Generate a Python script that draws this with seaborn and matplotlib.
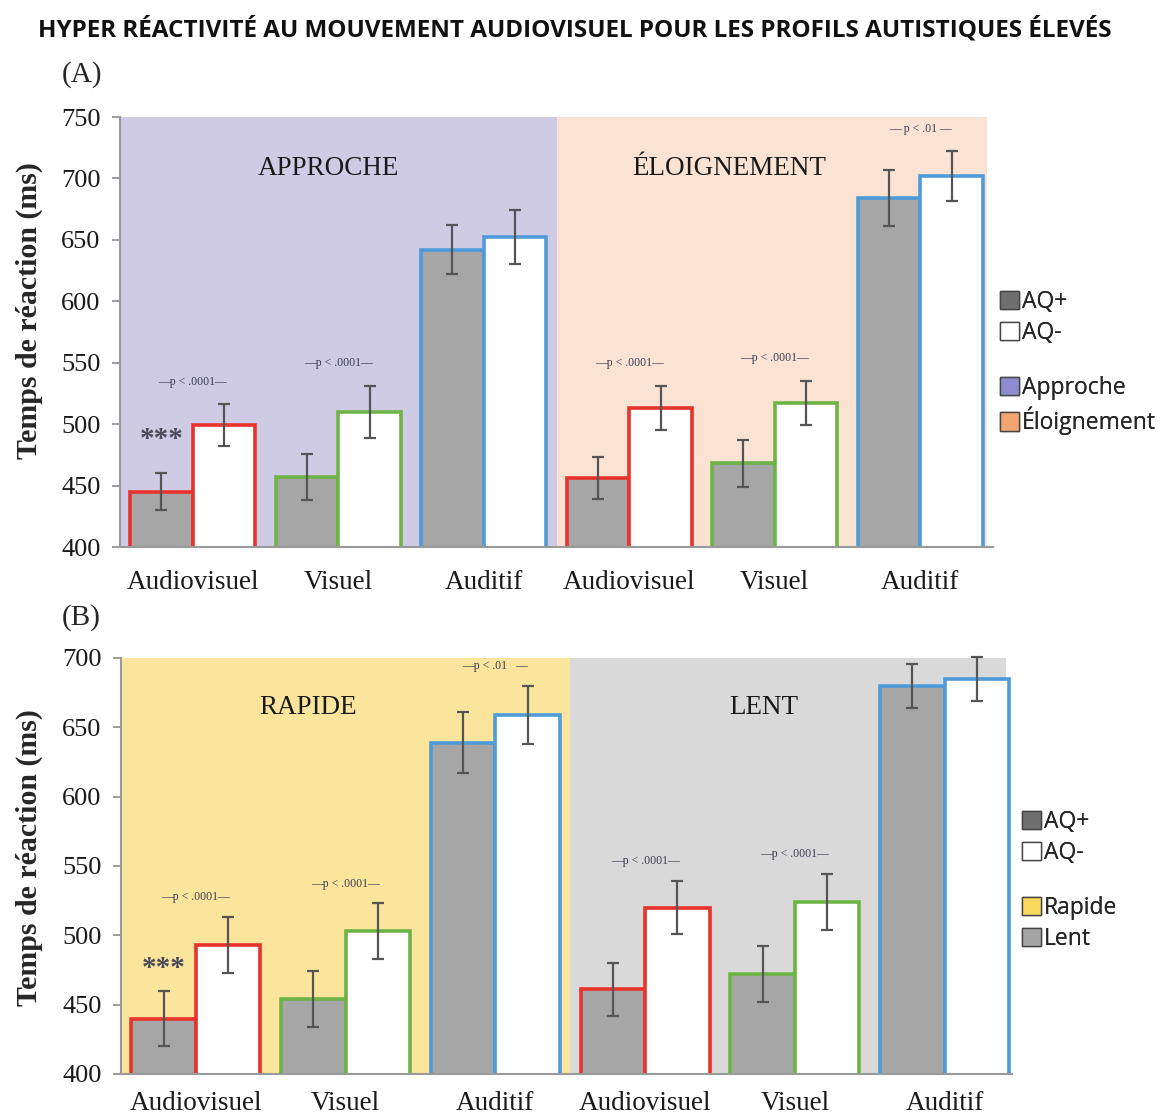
import matplotlib
matplotlib.use("Agg")
import matplotlib.pyplot as plt
from matplotlib.patches import Patch
import pandas as pd
import seaborn as sns

MODALITIES = ["Audiovisuel", "Visuel", "Auditif"]
GROUPS = ["AQ+", "AQ-"]

# panel A : approche / éloignement
A_CONDITIONS = ["APPROCHE", "ÉLOIGNEMENT"]
A_AQ_PLUS = [445, 457, 642, 456, 468, 684]
A_AQ_PLUS_ERR = [15, 19, 20, 17, 19, 23]
A_AQ_MINUS = [499, 510, 652, 513, 517, 702]
A_AQ_MINUS_ERR = [17, 21, 22, 18, 18, 20]
A_PVALUES = ["p < .0001", "p < .0001", None, "p < .0001", "p < .0001", " p < .01 "]
A_STARS = ["***", None, None, None, None, None]

# panel B : rapide / lent
B_CONDITIONS = ["RAPIDE", "LENT"]
B_AQ_PLUS = [440, 454, 639, 461, 472, 680]
B_AQ_PLUS_ERR = [20, 20, 22, 19, 20, 16]
B_AQ_MINUS = [493, 503, 659, 520, 524, 685]
B_AQ_MINUS_ERR = [20, 20, 21, 19, 20, 16]
B_PVALUES = ["p < .0001", "p < .0001", "p < .01   ", "p < .0001", "p < .0001", None]
B_STARS = ["***", None, None, None, None, None]

EDGE_COLORS = ["#e8322c", "#6db446", "#4f9ad8"]
BAR_FILL = {"AQ+": "#a6a6a6", "AQ-": "white"}

sns.set_style("white")
plt.rcParams["font.family"] = ["Liberation Serif", "DejaVu Serif"]


def make_frame(conditions, plus, minus):
    keys = [f"{c}|{m}" for c in conditions for m in MODALITIES]
    rows = []
    for k, p, q in zip(keys, plus, minus):
        rows.append({"cond": k, "aq": "AQ+", "rt": p})
        rows.append({"cond": k, "aq": "AQ-", "rt": q})
    return pd.DataFrame(rows), keys


def draw_panel(ax, conditions, plus, plus_err, minus, minus_err, pvals, stars,
               bg_colors, ylim, xmax, p_offset, star_offset, label_x,
               ylabel_pos, xtick_pad):
    df, keys = make_frame(conditions, plus, minus)
    ax.axvspan(-0.5, 2.5, color=bg_colors[0], zorder=0, lw=0)
    ax.axvspan(2.5, xmax - 0.04, color=bg_colors[1], zorder=0, lw=0)
    sns.barplot(data=df, x="cond", y="rt", hue="aq", order=keys, hue_order=GROUPS,
                palette=BAR_FILL, width=0.86, errorbar=None, saturation=1,
                legend=False, ax=ax, zorder=2)
    for container, errs in zip(ax.containers, [plus_err, minus_err]):
        xs, ys = [], []
        for i, bar in enumerate(container):
            bar.set_edgecolor(EDGE_COLORS[i % 3])
            bar.set_linewidth(2.6)
            xs.append(bar.get_x() + bar.get_width() / 2)
            ys.append(bar.get_height())
        eb = ax.errorbar(xs, ys, yerr=errs, fmt="none", ecolor="#555555",
                         elinewidth=1.6, capsize=4, capthick=1.6, zorder=4)
        for art in eb.lines[1] + eb.lines[2]:
            art.set_clip_on(False)

    plus_bars = ax.containers[0]
    for i, txt in enumerate(pvals):
        if txt is None:
            continue
        top = max(plus[i] + plus_err[i], minus[i] + minus_err[i])
        ax.annotate("—" + txt + "—", xy=(i, top), xytext=(0, p_offset),
                    textcoords="offset points", ha="center", va="bottom",
                    fontsize=8.5, color="#3c3c55", zorder=5)
    for i, txt in enumerate(stars):
        if txt is None:
            continue
        bar = plus_bars[i]
        ax.annotate(txt, xy=(bar.get_x() + bar.get_width() / 2, plus[i] + plus_err[i]),
                    xytext=(0, star_offset), textcoords="offset points",
                    ha="center", va="center", fontsize=21, fontweight="bold",
                    color="#4a4a58", zorder=5)

    for x, name in zip(label_x, conditions):
        ax.text(x, ylim[1] - 0.12 * (ylim[1] - ylim[0]), name,
                ha="center", va="center", fontsize=19.5, color="#1a1a1a", zorder=5)

    ax.set_xlim(-0.5, xmax)
    ax.set_ylim(*ylim)
    ax.set_yticks(range(ylim[0], ylim[1] + 1, 50))
    ax.set_xticks(range(6))
    ax.set_xticklabels(MODALITIES * 2)
    ax.set_xlabel("")
    ax.set_ylabel("Temps de réaction (ms)", fontsize=21.5, fontweight="bold")
    ax.yaxis.set_label_coords(*ylabel_pos)
    ax.tick_params(axis="y", left=True, length=6, width=1.2, color="#8c8c8c",
                   labelsize=19, pad=8, labelcolor="#1a1a1a")
    ax.tick_params(axis="x", bottom=False, labelsize=19.5, pad=xtick_pad,
                   labelcolor="#1a1a1a")
    sns.despine(ax=ax)
    for side in ["left", "bottom"]:
        ax.spines[side].set_color("#9a9a9a")
        ax.spines[side].set_linewidth(1.5)
        ax.spines[side].set_zorder(6)


fig = plt.figure(figsize=(11.61, 11.17), dpi=100)

ax_a = fig.add_axes([120 / 1161, 1 - 547 / 1117, 873 / 1161, 430 / 1117])
draw_panel(ax_a, A_CONDITIONS, A_AQ_PLUS, A_AQ_PLUS_ERR, A_AQ_MINUS, A_AQ_MINUS_ERR,
           A_PVALUES, A_STARS, ["#cfcbe4", "#fbe3d3"], (400, 750), 5.5, 12, 24,
           [0.93, 3.69], (-0.088, 0.55), 13)

ax_b = fig.add_axes([121 / 1161, 1 - 1074 / 1117, 891 / 1161, 416 / 1117])
draw_panel(ax_b, B_CONDITIONS, B_AQ_PLUS, B_AQ_PLUS_ERR, B_AQ_MINUS, B_AQ_MINUS_ERR,
           B_PVALUES, B_STARS, ["#fbe59c", "#d9d9d9"], (400, 700), 5.45, 10, 16,
           [0.75, 3.79], (-0.087, 0.52), 9)

fig.text(0.495, 1 - 30 / 1117, "HYPER RÉACTIVITÉ AU MOUVEMENT AUDIOVISUEL POUR LES PROFILS AUTISTIQUES ÉLEVÉS",
         ha="center", va="center", fontsize=17.5, fontweight="bold",
         family=["Open Sans", "DejaVu Sans"], color="#111111")
fig.text(62 / 1161, 1 - 75 / 1117, "(A)", ha="left", va="center", fontsize=21)
fig.text(62 / 1161, 1 - 618 / 1117, "(B)", ha="left", va="center", fontsize=21)

legend_font = {"family": ["Open Sans", "DejaVu Sans"], "size": 16.5}


def add_legends(top_y, left_x, cond_labels, cond_colors):
    aq_handles = [Patch(facecolor="#6e6e6e", edgecolor="#444444", label="AQ+"),
                  Patch(facecolor="white", edgecolor="#444444", label="AQ-")]
    cond_handles = [Patch(facecolor=c, edgecolor="#444444", label=l)
                    for l, c in zip(cond_labels, cond_colors)]
    for k, handles in enumerate([aq_handles, cond_handles]):
        leg = fig.legend(handles=handles, loc="upper left",
                         bbox_to_anchor=(left_x, top_y[k]), frameon=False,
                         prop=legend_font, handlelength=0.85, handleheight=0.85,
                         handletextpad=0.1, labelspacing=0.3, borderpad=0,
                         borderaxespad=0)
        fig.add_artist(leg)


add_legends([1 - 290 / 1117, 1 - 376 / 1117], 1000 / 1161,
            ["Approche", "Éloignement"], ["#8e8bd3", "#f3a56f"])
add_legends([1 - 810 / 1117, 1 - 896 / 1117], 1022 / 1161,
            ["Rapide", "Lent"], ["#f9d85c", "#a4a4a4"])

fig.savefig("out.png", dpi=100)
